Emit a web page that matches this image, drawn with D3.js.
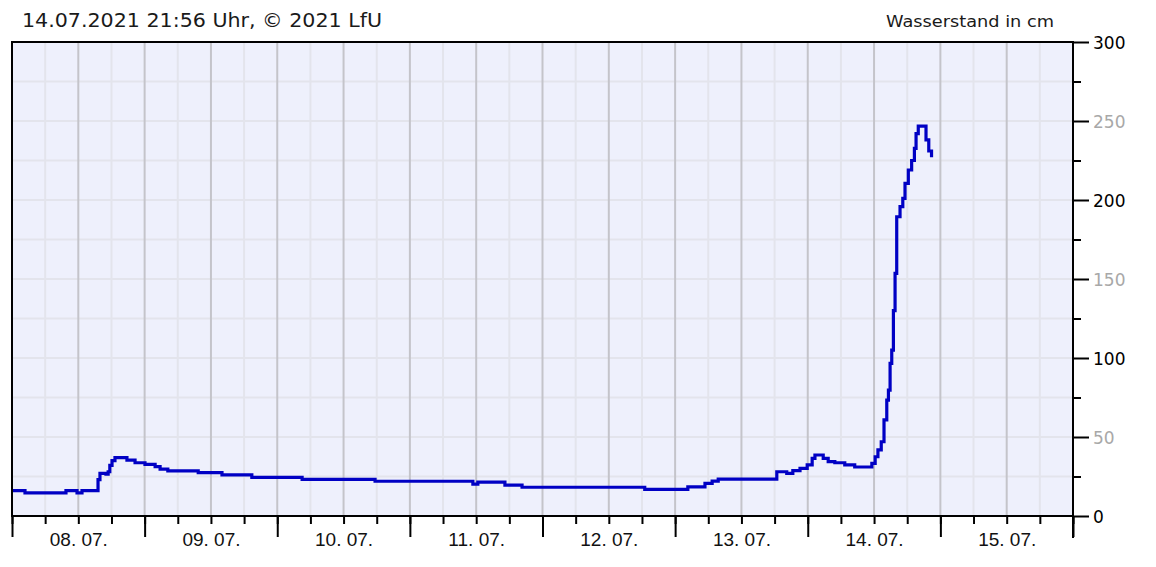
<!DOCTYPE html>
<html><head><meta charset="utf-8">
<script src="https://cdn.jsdelivr.net/npm/d3@7"></script>
<style>
html,body{margin:0;padding:0;background:#fff;}
svg{display:block;}
</style></head>
<body>
<svg id="c" width="1156" height="567"></svg>
<script>
// ---- data ----
const titleText = "14.07.2021 21:56 Uhr, © 2021 LfU";
const unitText = "Wasserstand in cm";
const timeDomain = ["2021-07-08 00:00", "2021-07-16 00:00"];
const yTicks = [0, 50, 100, 150, 200, 250, 300];
const yMinorTicks = [25, 75, 125, 175, 225, 275];
const yTickColors = ["#000", "#a8a8a8", "#000", "#a8a8a8", "#000", "#a8a8a8", "#000"];
const xLabelDays = ["2021-07-08 12:00","2021-07-09 12:00","2021-07-10 12:00","2021-07-11 12:00","2021-07-12 12:00","2021-07-13 12:00","2021-07-14 12:00","2021-07-15 12:00"];
const times = [
 "2021-07-08 00:00","2021-07-08 02:21","2021-07-08 09:46","2021-07-08 11:46","2021-07-08 12:40",
 "2021-07-08 15:34","2021-07-08 15:55","2021-07-08 17:00","2021-07-08 17:24","2021-07-08 17:42",
 "2021-07-08 18:06","2021-07-08 18:38","2021-07-08 20:48","2021-07-08 22:16","2021-07-09 00:04",
 "2021-07-09 01:54","2021-07-09 02:48","2021-07-09 04:12","2021-07-09 09:42","2021-07-09 14:00",
 "2021-07-09 19:24","2021-07-10 04:30","2021-07-10 17:42","2021-07-11 11:24","2021-07-11 12:18",
 "2021-07-11 17:12","2021-07-11 20:18","2021-07-12 18:30","2021-07-13 02:18","2021-07-13 05:24",
 "2021-07-13 06:42","2021-07-13 07:48","2021-07-13 18:24","2021-07-13 20:12","2021-07-13 21:18",
 "2021-07-13 22:36","2021-07-13 23:54","2021-07-14 00:48","2021-07-14 01:18","2021-07-14 02:48",
 "2021-07-14 03:42","2021-07-14 04:54","2021-07-14 06:42","2021-07-14 08:30","2021-07-14 11:36",
 "2021-07-14 12:12","2021-07-14 12:42","2021-07-14 13:18","2021-07-14 13:48","2021-07-14 14:18",
 "2021-07-14 14:36","2021-07-14 14:54","2021-07-14 15:12","2021-07-14 15:30","2021-07-14 15:48",
 "2021-07-14 16:06","2021-07-14 16:42","2021-07-14 17:12","2021-07-14 17:36","2021-07-14 18:12",
 "2021-07-14 18:48","2021-07-14 19:18","2021-07-14 19:36","2021-07-14 20:00","2021-07-14 21:24",
 "2021-07-14 21:54","2021-07-14 22:24"
];
const levels = [
 16, 14.6, 16, 14.6, 16,
 23, 27, 26.5, 28, 32,
 35, 37, 35.4, 33.7, 32.7,
 31.2, 29.7, 28.5, 27.4, 26,
 24.5, 23.2, 22, 20.2, 21.5,
 19.6, 18.2, 16.9, 18.4, 20.7,
 22.1, 23.4, 28, 27, 28.7,
 30.1, 32.3, 36.5, 38.6, 36.5,
 34.4, 33.7, 32.3, 31, 33.3,
 37.5, 41.8, 47, 60.8, 73.4,
 79.7, 96.6, 105, 130, 153.6,
 189.4, 195.8, 201, 210.5, 219,
 225, 232.7, 242, 246.8, 238,
 231, 227
];

// ---- drawing ----
const parse = d3.timeParse("%Y-%m-%d %H:%M");
const data = times.map((t, i) => ({t: parse(t), v: levels[i]}));
const L = 12, R = 1073, T = 42, B = 516;
const x = d3.scaleTime().domain(timeDomain.map(parse)).range([L, R]);
const y = d3.scaleLinear().domain([0, 300]).range([B, T]);
const svg = d3.select("#c");

svg.append("rect").attr("x", L).attr("y", T).attr("width", R - L).attr("height", B - T).attr("fill", "#eef0fc");

// horizontal grid
svg.append("g").selectAll("line").data(d3.range(25, 300, 25)).join("line")
  .attr("x1", L).attr("x2", R).attr("y1", d => y(d)).attr("y2", d => y(d))
  .attr("stroke", "#e3e4ec").attr("stroke-width", 2);
// vertical grid (6h light, 12h dark)
const sixH = d3.timeHour.every(6).range(x.domain()[0], x.domain()[1]).filter(d => +d > +x.domain()[0]);
svg.append("g").selectAll("line").data(sixH).join("line")
  .attr("x1", d => x(d)).attr("x2", d => x(d)).attr("y1", T).attr("y2", B)
  .attr("stroke", d => d.getHours() % 12 === 0 ? "#c4c4ca" : "#e3e4ec").attr("stroke-width", 2);

// line
svg.append("path").datum(data)
  .attr("d", d3.line().x(d => x(d.t)).y(d => y(d.v)).curve(d3.curveStepAfter))
  .attr("fill", "none").attr("stroke", "#0000c4").attr("stroke-width", 3.2);

// frame
svg.append("rect").attr("x", L).attr("y", T).attr("width", R - L).attr("height", B - T)
  .attr("fill", "none").attr("stroke", "#000").attr("stroke-width", 2);

// bottom axes
const minorAx = d3.axisBottom(x).ticks(d3.timeHour.every(6)).tickSize(8).tickSizeOuter(0).tickFormat("");
const majorAx = d3.axisBottom(x).ticks(d3.timeDay.every(1)).tickSize(21).tickSizeOuter(0).tickFormat("");
const labelAx = d3.axisBottom(x).tickValues(xLabelDays.map(parse)).tickSize(0).tickPadding(0).tickFormat(d3.timeFormat("%d. %m."));
function styleAx(g){ g.select(".domain").remove(); g.selectAll(".tick line").attr("stroke", "#000").attr("stroke-width", 2); }
svg.append("g").attr("transform", `translate(0,${B})`).call(minorAx).call(styleAx);
svg.append("g").attr("transform", `translate(0,${B})`).call(majorAx).call(styleAx);
const lg = svg.append("g").attr("transform", `translate(0,${B})`).call(labelAx);
lg.select(".domain").remove();
lg.selectAll(".tick text").attr("y", 30).attr("dy", 0)
  .attr("font-family", "Liberation Sans, Arial, sans-serif").attr("font-size", 19).attr("fill", "#111");

// right axis
svg.append("line").attr("x1", R).attr("x2", R).attr("y1", T - 1).attr("y2", 538).attr("stroke", "#000").attr("stroke-width", 2);
const yMinor = d3.axisRight(y).tickValues(yMinorTicks).tickSize(8).tickSizeOuter(0).tickFormat("");
const yMajor = d3.axisRight(y).tickValues(yTicks).tickSize(16).tickSizeOuter(0).tickPadding(4).tickFormat(d3.format("d"));
svg.append("g").attr("transform", `translate(${R},0)`).call(yMinor).call(styleAx);
const ym = svg.append("g").attr("transform", `translate(${R},0)`).call(yMajor).call(styleAx);
ym.selectAll(".tick text").attr("font-family", "DejaVu Sans, Verdana, sans-serif").attr("font-size", 17)
  .attr("fill", (d, i) => yTickColors[i]).attr("dy", "0.36em");

// titles
svg.append("text").attr("x", 22).attr("y", 27).text(titleText)
  .attr("font-family", "DejaVu Sans, Verdana, sans-serif").attr("font-size", 20).attr("fill", "#1a1a1a")
  .attr("textLength", 360).attr("lengthAdjust", "spacingAndGlyphs");
svg.append("text").attr("x", 886).attr("y", 27).text(unitText)
  .attr("font-family", "DejaVu Sans, Verdana, sans-serif").attr("font-size", 15).attr("fill", "#1a1a1a")
  .attr("textLength", 168).attr("lengthAdjust", "spacingAndGlyphs");
</script>
</body></html>
